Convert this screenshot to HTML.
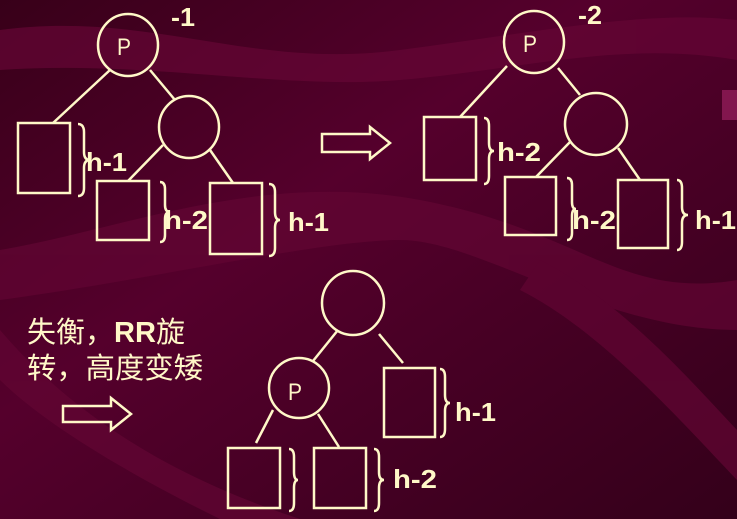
<!DOCTYPE html>
<html><head><meta charset="utf-8"><style>
html,body{margin:0;padding:0;width:737px;height:519px;overflow:hidden;background:#4a0028}
svg{display:block}
text{fill:#fff8c8;font-family:"Liberation Sans","Noto Sans CJK SC",sans-serif}
.s{fill:none;stroke:#fff8c8;stroke-width:2.5}
.h{font-weight:bold;font-size:26px}
.p{font-size:24px}
</style></head><body>
<svg width="737" height="519" viewBox="0 0 737 519">
<defs>
<linearGradient id="bg" x1="0" y1="0" x2="1" y2="1">
<stop offset="0" stop-color="#380019"/><stop offset="0.4" stop-color="#55002c"/><stop offset="1" stop-color="#34001a"/>
</linearGradient>
</defs>
<rect width="737" height="519" fill="url(#bg)"/>
<g opacity="0.7">
<path d="M0 30 C150 10 250 70 400 50 S650 10 737 20 L737 60 C620 40 520 70 400 80 S150 60 0 70Z" fill="#650535"/>
<path d="M0 250 C120 230 260 170 420 200 S620 300 737 280 L737 330 C600 330 480 240 400 240 S150 280 0 300Z" fill="#620533"/>
<path d="M0 330 C60 400 150 470 300 519 L220 519 C120 470 40 420 0 380Z" fill="#620533"/>
<path d="M540 260 C620 300 690 380 737 430 L737 480 C680 420 600 330 520 290Z" fill="#620533"/>
<rect x="722" y="90" width="15" height="30" fill="#9a2060"/>
</g>

<g>
<ellipse class="s" cx="128" cy="45" rx="30" ry="31"/>
<text x="117" y="55" class="p" textLength="14" lengthAdjust="spacingAndGlyphs">P</text>
<text x="171" y="26" class="h" textLength="24" lengthAdjust="spacingAndGlyphs">-1</text>
<line class="s" x1="110" y1="70" x2="53" y2="123"/>
<line class="s" x1="150" y1="70" x2="175" y2="100"/>
<ellipse class="s" cx="189" cy="127" rx="30" ry="31"/>
<rect class="s" x="18" y="123" width="52" height="70"/>
<path class="s" d="M78 124 q6 0 6 8 v20 q0 8 6 8 q-6 0 -6 8 v20 q0 8 -6 8"/>
<text x="86" y="171" class="h" textLength="41" lengthAdjust="spacingAndGlyphs">h-1</text>
<line class="s" x1="163" y1="145" x2="128" y2="181"/>
<line class="s" x1="210" y1="150" x2="233" y2="183"/>
<rect class="s" x="97" y="181" width="52" height="59"/>
<path class="s" d="M160 182 q5 0 5 7 v16 q0 7 5 7 q-5 0 -5 7 v16 q0 7 -5 7"/>
<text x="164" y="229" class="h" textLength="44" lengthAdjust="spacingAndGlyphs">h-2</text>
<rect class="s" x="210" y="183" width="52" height="71"/>
<path class="s" d="M269 184 q6 0 6 8 v20 q0 8 5 8 q-5 0 -5 8 v20 q0 8 -6 8"/>
<text x="288" y="231" class="h" textLength="41" lengthAdjust="spacingAndGlyphs">h-1</text>
</g>

<path class="s" d="M322 134 h48 v-7 l20 16 l-20 16 v-7 h-48z"/>

<g>
<ellipse class="s" cx="534" cy="42" rx="30" ry="31"/>
<text x="523" y="52" class="p" textLength="14" lengthAdjust="spacingAndGlyphs">P</text>
<text x="578" y="24" class="h" textLength="24" lengthAdjust="spacingAndGlyphs">-2</text>
<line class="s" x1="507" y1="66" x2="460" y2="117"/>
<line class="s" x1="558" y1="68" x2="580" y2="95"/>
<ellipse class="s" cx="596" cy="124" rx="31" ry="31"/>
<rect class="s" x="424" y="117" width="52" height="63"/>
<path class="s" d="M484 118 q5 0 5 8 v17 q0 8 5 8 q-5 0 -5 8 v17 q0 8 -5 8"/>
<text x="497" y="161" class="h" textLength="44" lengthAdjust="spacingAndGlyphs">h-2</text>
<line class="s" x1="570" y1="142" x2="536" y2="177"/>
<line class="s" x1="618" y1="148" x2="640" y2="180"/>
<rect class="s" x="505" y="177" width="51" height="58"/>
<path class="s" d="M567 178 q5 0 5 7 v17 q0 7 4 7 q-4 0 -4 7 v17 q0 7 -5 7"/>
<text x="572" y="229" class="h" textLength="44" lengthAdjust="spacingAndGlyphs">h-2</text>
<rect class="s" x="618" y="180" width="50" height="68"/>
<path class="s" d="M677 180 q5 0 5 8 v19 q0 8 6 8 q-6 0 -6 8 v19 q0 8 -5 8"/>
<text x="695" y="229" class="h" textLength="41" lengthAdjust="spacingAndGlyphs">h-1</text>
</g>

<text x="27" y="342" font-size="29" textLength="158" lengthAdjust="spacingAndGlyphs">失衡，<tspan font-weight="bold">RR</tspan>旋</text>
<text x="27" y="378" font-size="29" textLength="176" lengthAdjust="spacingAndGlyphs">转，高度变矮</text>
<path class="s" d="M63 406 h48 v-8 l20 16 l-20 16 v-8 h-48z"/>

<g>
<ellipse class="s" cx="353" cy="303" rx="31" ry="32"/>
<line class="s" x1="338" y1="330" x2="313" y2="361"/>
<line class="s" x1="379" y1="334" x2="403" y2="363"/>
<ellipse class="s" cx="299" cy="388" rx="30" ry="30"/>
<text x="288" y="400" class="p" textLength="14" lengthAdjust="spacingAndGlyphs">P</text>
<rect class="s" x="384" y="368" width="51" height="69"/>
<path class="s" d="M440 369 q5 0 5 8 v18 q0 8 5 8 q-5 0 -5 8 v18 q0 8 -5 8"/>
<text x="455" y="421" class="h" textLength="41" lengthAdjust="spacingAndGlyphs">h-1</text>
<line class="s" x1="273" y1="410" x2="256" y2="443"/>
<line class="s" x1="318" y1="414" x2="339" y2="447"/>
<rect class="s" x="228" y="448" width="52" height="60"/>
<path class="s" d="M289 449 q5 0 5 8 v15 q0 8 4 8 q-4 0 -4 8 v15 q0 8 -5 8"/>
<rect class="s" x="314" y="448" width="52" height="60"/>
<path class="s" d="M374 449 q5 0 5 8 v15 q0 8 5 8 q-5 0 -5 8 v15 q0 8 -5 8"/>
<text x="393" y="488" class="h" textLength="44" lengthAdjust="spacingAndGlyphs">h-2</text>
</g>
</svg>
</body></html>
